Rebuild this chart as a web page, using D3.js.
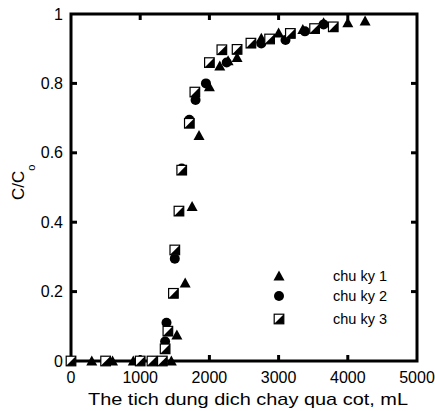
<!DOCTYPE html>
<html>
<head>
<meta charset="utf-8">
<script src="https://cdn.jsdelivr.net/npm/d3@7"></script>
<style>
  body { margin: 0; background: #fff; }
  svg { display: block; font-family: "Liberation Sans", Arial, sans-serif; }
</style>
</head>
<body>
<div class="graph"></div>
<script>
// chu ky 1 (triangles)
const cycle1X = [300, 600, 900, 1450, 1530, 1650, 1750, 1850, 2000, 2150, 2270, 2400, 2750, 3000, 3350, 3650, 4000, 4250];
const cycle1Y = [0, 0, 0, 0, 0.075, 0.225, 0.445, 0.65, 0.79, 0.85, 0.865, 0.875, 0.93, 0.945, 0.955, 0.975, 0.975, 0.98];
// chu ky 2 (circles)
const cycle2X = [0, 500, 1000, 1200, 1360, 1380, 1500, 1600, 1710, 1800, 1950, 2250, 2750, 3100, 3380, 3650];
const cycle2Y = [0, 0, 0, 0, 0.056, 0.11, 0.295, 0.555, 0.695, 0.752, 0.80, 0.86, 0.915, 0.925, 0.95, 0.97];
// chu ky 3 (half filled squares)
const cycle3X = [0, 500, 1000, 1170, 1320, 1360, 1400, 1480, 1500, 1560, 1600, 1710, 1790, 2000, 2180, 2400, 2600, 2870, 3170, 3520, 3790];
const cycle3Y = [0, 0, 0, 0, 0, 0.035, 0.086, 0.195, 0.32, 0.432, 0.55, 0.685, 0.775, 0.86, 0.897, 0.898, 0.916, 0.928, 0.944, 0.958, 0.963];

const xTicks = [0, 1000, 2000, 3000, 4000, 5000];
const yTicks = [0, 0.2, 0.4, 0.6, 0.8, 1];
const yTickLabels = ["0", "0.2", "0.4", "0.6", "0.8", "1"];
const legendLabels = ["chu ky 1", "chu ky 2", "chu ky 3"];

const W = 435, H = 411;
const margin = {top: 14, right: 18, bottom: 50, left: 71};

const svg = d3.select(".graph").append("svg")
  .attr("width", W)
  .attr("height", H);

const x = d3.scaleLinear().domain([0, 5000]).range([margin.left, W - margin.right]);
const y = d3.scaleLinear().domain([0, 1]).range([H - margin.bottom, margin.top]);

const toPts = (xs, ys) => xs.map((v, i) => ({x: v, y: ys[i]}));

// markers
function triangle(g){
  g.append("path").attr("d", "M0,-5.5L5.5,4.5L-5.5,4.5Z").attr("fill", "#000");
}
function circle(g){
  g.append("circle").attr("r", 5).attr("fill", "#000");
}
function halfSquare(g){
  g.append("rect").attr("x", -4.8).attr("y", -4.8).attr("width", 9.6).attr("height", 9.6)
    .attr("fill", "#fff").attr("stroke", "#000").attr("stroke-width", 1.2);
  g.append("path").attr("d", "M4.8,-4.8L4.8,4.8L-4.8,4.8Z").attr("fill", "#000");
}

const series = [
  {pts: toPts(cycle1X, cycle1Y), draw: triangle},
  {pts: toPts(cycle2X, cycle2Y), draw: circle},
  {pts: toPts(cycle3X, cycle3Y), draw: halfSquare}
];

// frame
const frame = svg.append("g");
frame.append("rect")
  .attr("x", x(0)).attr("y", y(1))
  .attr("width", x(5000) - x(0)).attr("height", y(0) - y(1))
  .attr("fill", "none").attr("stroke", "#000").attr("stroke-width", 3);

// inward ticks on all four sides
const tickLen = 6;
xTicks.slice(1, -1).forEach(t => {
  frame.append("line").attr("x1", x(t)).attr("x2", x(t))
    .attr("y1", y(0)).attr("y2", y(0) - tickLen)
    .attr("stroke", "#000").attr("stroke-width", 3);
  frame.append("line").attr("x1", x(t)).attr("x2", x(t))
    .attr("y1", y(1)).attr("y2", y(1) + tickLen)
    .attr("stroke", "#000").attr("stroke-width", 3);
});
yTicks.slice(1, -1).forEach(t => {
  frame.append("line").attr("x1", x(0)).attr("x2", x(0) + tickLen)
    .attr("y1", y(t)).attr("y2", y(t))
    .attr("stroke", "#000").attr("stroke-width", 3);
  frame.append("line").attr("x1", x(5000)).attr("x2", x(5000) - tickLen)
    .attr("y1", y(t)).attr("y2", y(t))
    .attr("stroke", "#000").attr("stroke-width", 3);
});

// tick labels
svg.append("g").selectAll("text")
  .data(xTicks)
  .enter().append("text")
    .attr("x", d => x(d))
    .attr("y", y(0) + 22)
    .attr("text-anchor", "middle")
    .attr("font-size", 16)
    .text(d => d);

svg.append("g").selectAll("text")
  .data(yTicks)
  .enter().append("text")
    .attr("x", x(0) - 8)
    .attr("y", d => y(d) + 5.5)
    .attr("text-anchor", "end")
    .attr("font-size", 16)
    .text((d, i) => yTickLabels[i]);

// axis titles
svg.append("text")
  .attr("x", 248)
  .attr("y", 405)
  .attr("text-anchor", "middle")
  .attr("font-size", 17)
  .attr("textLength", 320)
  .attr("lengthAdjust", "spacingAndGlyphs")
  .text("The tich dung dich chay qua cot, mL");

const yl = svg.append("text")
  .attr("transform", "translate(24,200) rotate(-90)")
  .attr("font-size", 17);
yl.append("tspan").text("C/C");
yl.append("tspan").attr("font-size", 11).attr("dy", 11).text("o");

// data
series.forEach(s => {
  svg.append("g").selectAll("g")
    .data(s.pts)
    .enter().append("g")
      .attr("transform", d => "translate(" + x(d.x) + "," + y(d.y) + ")")
      .each(function(){ s.draw(d3.select(this)); });
});

// legend
const legend = svg.append("g");
const legendY = [276, 296, 319];
legendLabels.forEach((lab, i) => {
  const g = legend.append("g").attr("transform", "translate(279," + legendY[i] + ")");
  series[i].draw(g);
  legend.append("text")
    .attr("x", 333)
    .attr("y", legendY[i] + 5)
    .attr("font-size", 14.5)
    .text(lab);
});
</script>
</body>
</html>
